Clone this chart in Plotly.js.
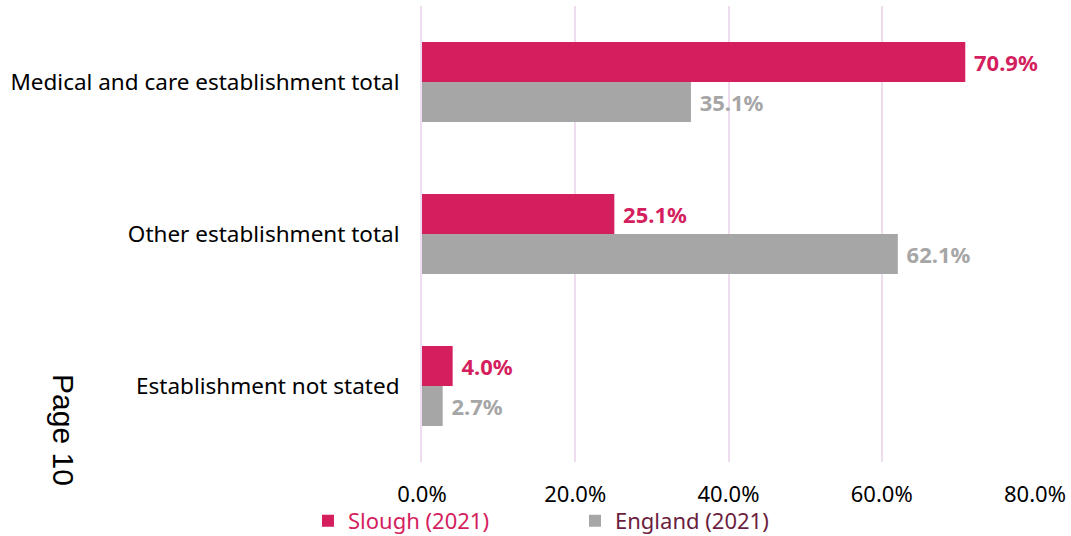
<!DOCTYPE html>
<html><head><meta charset="utf-8">
<script src="https://cdn.plot.ly/plotly-3.0.1.min.js"></script>
<style>body{margin:0;padding:0;background:#fff}#chart{width:1071px;height:536px}</style>
</head><body><div id="chart"></div>
<script>
const categories = ["Medical and care establishment total", "Other establishment total", "Establishment not stated"];
const slough = [70.9, 25.1, 4.0];
const england = [35.1, 62.1, 2.7];
const seriesNames = ["Slough (2021)", "England (2021)"];
const tickVals = [0, 20, 40, 60, 80];

const pink = "#D41E5E", grey = "#A6A6A6";
const font = "Noto Sans, Open Sans, sans-serif";
const lbl = v => "\u00a0" + v.toFixed(1) + "%";

const traces = [
  {type:"bar", orientation:"h", name:seriesNames[0], y:categories, x:slough,
   marker:{color:pink}, text:slough.map(lbl), textposition:"outside",
   textfont:{color:pink, size:22, family:font, weight:"bold"}, cliponaxis:false, legend:"legend"},
  {type:"bar", orientation:"h", name:seriesNames[1], y:categories, x:england,
   marker:{color:grey}, text:england.map(lbl), textposition:"outside",
   textfont:{color:grey, size:22, family:font, weight:"bold"}, cliponaxis:false, legend:"legend2"}
];

const layout = {
  width:1071, height:536,
  margin:{l:422, r:36, t:6, b:74, autoexpand:false},
  paper_bgcolor:"#fff", plot_bgcolor:"#fff",
  barmode:"group", bargap:0.474, bargroupgap:0,
  font:{family:font, size:22, color:"#000"},
  xaxis:{range:[0,80], tickvals:tickVals, ticktext:tickVals.map(v=>v.toFixed(1)+"%"),
    showgrid:true, gridcolor:"#EEDDEE", gridwidth:2, zeroline:false, showline:false,
    ticks:"outside", ticklen:13, tickcolor:"rgba(0,0,0,0)", tickfont:{size:22, color:"#000"}},
  yaxis:{categoryorder:"array", categoryarray:categories, autorange:"reversed",
    showgrid:false, zeroline:false, showline:true, linecolor:"#EEDDEE", linewidth:2,
    ticks:"outside", ticklen:16, tickcolor:"rgba(0,0,0,0)", tickfont:{size:22.5, color:"#000"}},
  legend:{orientation:"h", x:-0.186, xanchor:"left", y:-0.083, yanchor:"top",
    font:{size:22, color:pink}, bgcolor:"rgba(0,0,0,0)"},
  legend2:{orientation:"h", x:0.2496, xanchor:"left", y:-0.083, yanchor:"top",
    font:{size:22, color:"#6B1E3E"}, bgcolor:"rgba(0,0,0,0)"},
  showlegend:true,
  annotations:[{text:"Page 10", xref:"paper", yref:"paper", x:-0.584, y:0.07,
    xanchor:"center", yanchor:"middle",
    textangle:90, showarrow:false, font:{family:"Liberation Sans, Arial, sans-serif", size:30, color:"#000"}}]
};
Plotly.newPlot("chart", traces, layout, {displayModeBar:false});
</script></body></html>
